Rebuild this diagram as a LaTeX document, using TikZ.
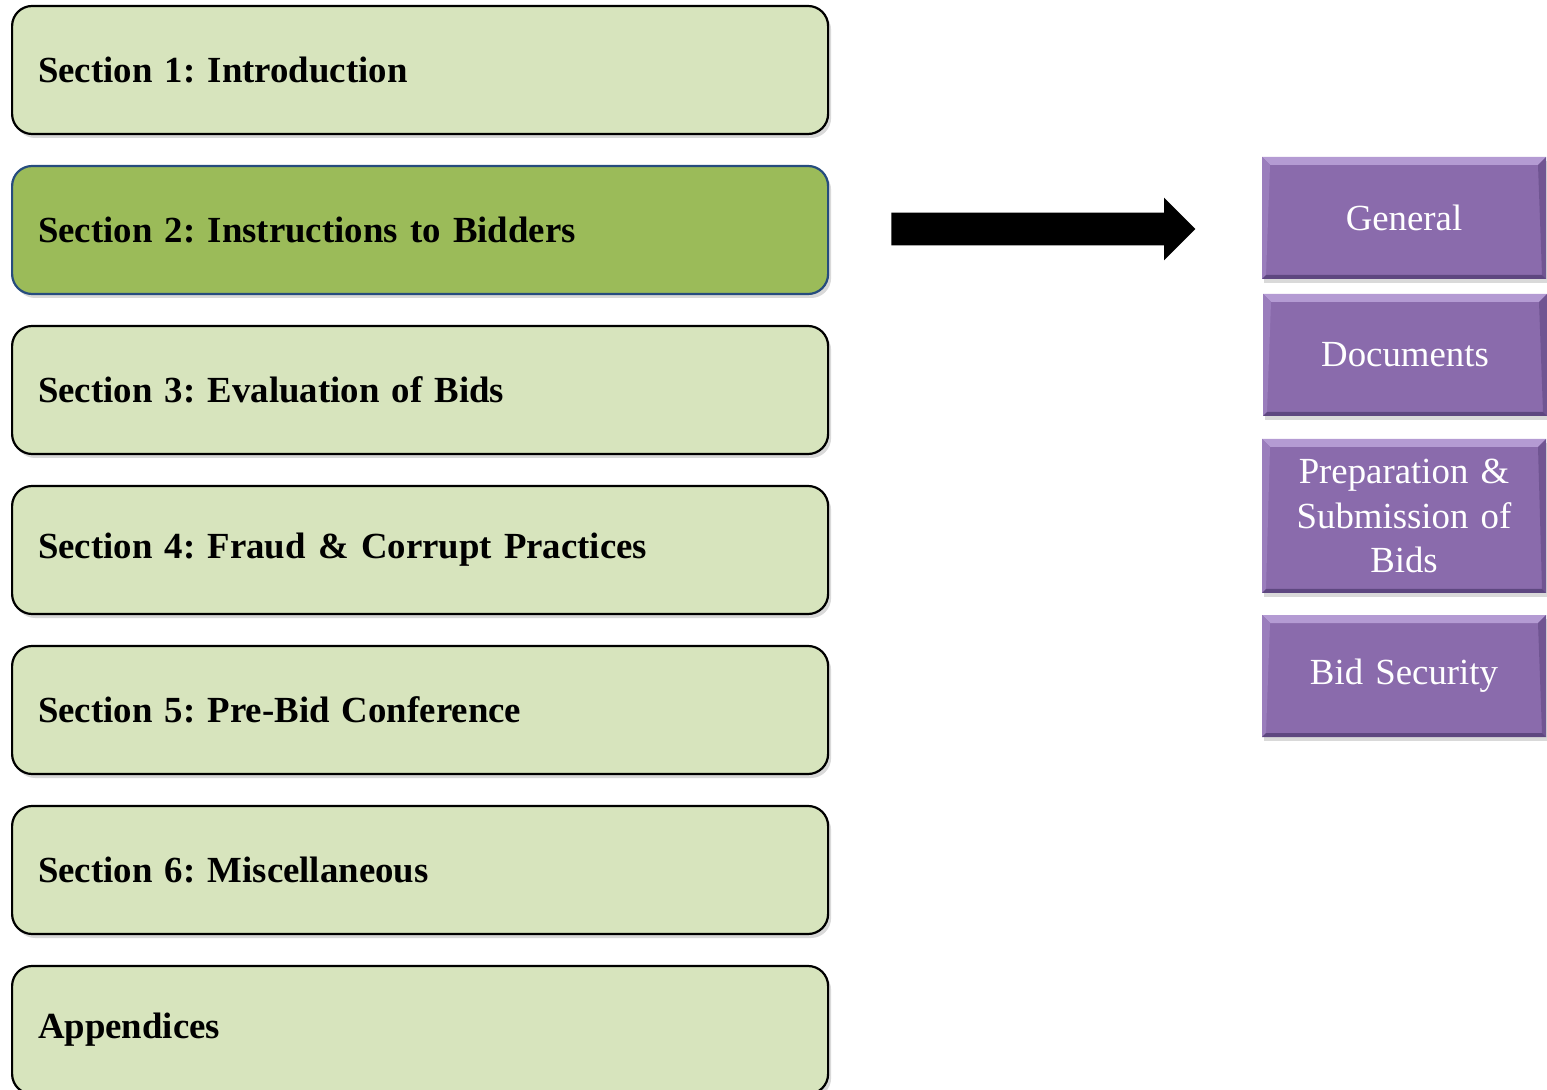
\documentclass[tikz,border=0pt]{standalone}
\usepackage{fontspec}
\setmainfont{Liberation Serif}
\usetikzlibrary{shadows,shapes.arrows}
\frenchspacing

\definecolor{leafgreen}{HTML}{D7E4BD}
\definecolor{darkgreen}{HTML}{9BBB59}
\definecolor{edgeblue}{HTML}{264C7E}
\definecolor{plum}{HTML}{8A6BAC}
\definecolor{plumlight}{HTML}{B49BD3}
\definecolor{plumside}{HTML}{9A7DBC}
\definecolor{plumdark}{HTML}{5E4780}

\tikzset{
  section/.style={rectangle, rounded corners=10pt, draw=black, line width=1.1pt,
    fill=leafgreen, minimum width=408pt, minimum height=64pt, text width=382pt,
    inner xsep=13pt, align=left, anchor=west,
    font=\fontsize{18.4}{22}\selectfont\bfseries,
    drop shadow={opacity=0.3, shadow xshift=1.5pt, shadow yshift=-2pt}},
  part/.style={rectangle, fill=plum, minimum width=142pt, minimum height=61pt,
    text width=130pt, align=center, text=white,
    font=\fontsize{18.4}{22.2}\selectfont,
    drop shadow={opacity=0.3, shadow xshift=1pt, shadow yshift=-2pt},
    path picture={
      \fill[plumlight] (path picture bounding box.north west) -- (path picture bounding box.north east)
        -- ([xshift=-4pt,yshift=-4pt]path picture bounding box.north east)
        -- ([xshift=4pt,yshift=-4pt]path picture bounding box.north west) -- cycle;
      \fill[plumside] (path picture bounding box.north west) -- ([xshift=4pt,yshift=-4pt]path picture bounding box.north west)
        -- ([xshift=2pt,yshift=2pt]path picture bounding box.south west)
        -- (path picture bounding box.south west) -- cycle;
      \fill[plumdark!60!plum] (path picture bounding box.north east) -- ([xshift=-4pt,yshift=-4pt]path picture bounding box.north east)
        -- ([xshift=-2pt,yshift=2pt]path picture bounding box.south east)
        -- (path picture bounding box.south east) -- cycle;
      \fill[plumdark] (path picture bounding box.south west) -- (path picture bounding box.south east)
        -- ([xshift=-2pt,yshift=2pt]path picture bounding box.south east)
        -- ([xshift=2pt,yshift=2pt]path picture bounding box.south west) -- cycle;
    }},
}

\begin{document}
\begin{tikzpicture}[x=0.5pt,y=-0.5pt]
\useasboundingbox (0,0) rectangle (1547,1090);

% sections
\node[section] (s1) at (11,70) {Section 1: Introduction};
\node[section, fill=darkgreen, draw=edgeblue] (s2) at (11,230) {Section 2: Instructions to Bidders};
\node[section] (s3) at (11,390) {Section 3: Evaluation of Bids};
\node[section] (s4) at (11,550) {Section 4: Fraud \& Corrupt Practices};
\node[section] (s5) at (11,710) {Section 5: Pre-Bid Conference};
\node[section] (s6) at (11,870) {Section 6: Miscellaneous};
\node[section] (app) at (11,1030) {Appendices};

% arrow
\node[single arrow, fill=black, draw=none, inner xsep=0pt, inner ysep=8pt,
      text height=0pt, text depth=0pt, minimum height=152pt,
      single arrow head extend=7.5pt, single arrow tip angle=90,
      anchor=tail] (arr) at (891,229) {};

% parts of section 2
\node[part] (gen) at (1404,218) {General};
\node[part] (doc) at (1405,355) {Documents};
\node[part, minimum height=77pt] (prep) at (1404,516) {Preparation \&\\ Submission of\\ Bids};
\node[part] (sec) at (1404,676) {Bid Security};
\end{tikzpicture}
\end{document}
